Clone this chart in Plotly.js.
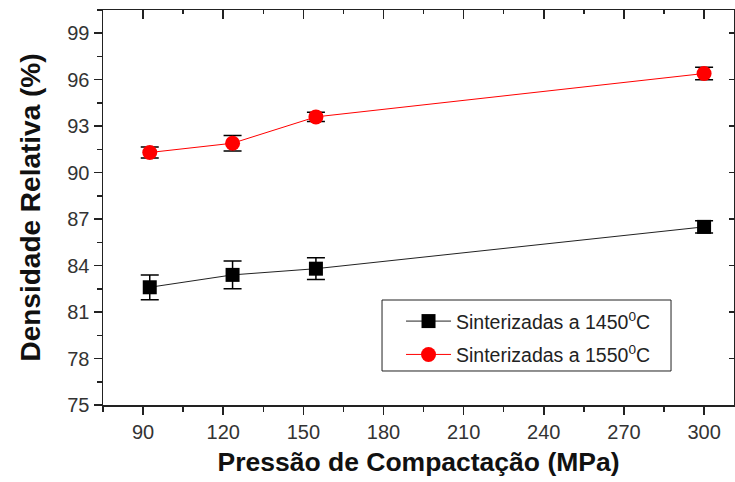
<!DOCTYPE html>
<html>
<head>
<meta charset="utf-8">
<script src="https://cdn.plot.ly/plotly-3.0.1.min.js"></script>
<style>html,body{margin:0;padding:0;background:#fff;}#chart{width:735px;height:482px;}</style>
</head>
<body>
<div id="chart"></div>
<script>
var pressure = [92.5, 123.5, 154.7, 300];
var dens1450 = [82.6, 83.4, 83.8, 86.5];
var err1450 = [0.8, 0.9, 0.7, 0.4];
var dens1550 = [91.3, 91.9, 93.6, 96.4];
var err1550 = [0.35, 0.5, 0.3, 0.4];
var names = ['Sinterizadas a 1450<sup>0</sup>C', 'Sinterizadas a 1550<sup>0</sup>C'];

var traces = [
  {x: pressure, y: dens1450, name: names[0], type: 'scatter', mode: 'lines+markers',
   legendgroup: 'a',
   line: {color: '#222', width: 1},
   marker: {symbol: 'square', size: 14, color: '#000'},
   error_y: {type: 'data', array: err1450, visible: true, color: '#000', thickness: 1.5, width: 9}},
  {x: pressure, y: dens1550, name: names[1], type: 'scatter', mode: 'lines+markers',
   legendgroup: 'b',
   line: {color: '#ff0000', width: 1},
   marker: {symbol: 'circle', size: 15, color: '#ff0000'},
   error_y: {type: 'data', array: err1550, visible: true, color: '#000', thickness: 1.5, width: 9}},
  {x: [null], y: [null], xaxis: 'x2', yaxis: 'y2', showlegend: false, hoverinfo: 'skip', type: 'scatter', mode: 'markers'}
];

var axisFont = {family: 'Arial, Liberation Sans, sans-serif', size: 20, color: '#333'};
var xTitleFont = {family: 'Arial, Liberation Sans, sans-serif', size: 26.5, color: '#111', weight: 'bold'};
var yTitleFont = {family: 'Arial, Liberation Sans, sans-serif', size: 28, color: '#111', weight: 'bold'};
var layout = {
  width: 735, height: 482,
  margin: {l: 103, r: 1, t: 10, b: 77},
  paper_bgcolor: '#fff', plot_bgcolor: '#fff',
  font: {family: 'Arial, Liberation Sans, sans-serif'},
  showlegend: true,
  legend: {x: 0.4723, xanchor: 'left', y: 0.261, yanchor: 'top',
    borderwidth: 0, bgcolor: 'rgba(0,0,0,0)',
    font: {family: 'Arial, Liberation Sans, sans-serif', size: 19.5, color: '#222'},
    traceorder: 'grouped', tracegroupgap: 5, itemwidth: 45},
  shapes: [{type: 'rect', xref: 'paper', yref: 'paper', x0: 0.4422, x1: 0.9002, y0: 0.0861, y1: 0.2658,
    line: {color: '#222', width: 1}, fillcolor: '#fff', layer: 'above'}],
  xaxis: {range: [75, 311.2], tick0: 90, dtick: 30, ticks: 'outside', ticklen: 8, tickwidth: 1.5,
    tickcolor: '#222', showline: true, linecolor: '#222', linewidth: 1.5, showgrid: false, zeroline: false,
    tickfont: axisFont,
    minor: {dtick: 15, tick0: 90, ticks: 'outside', ticklen: 5, tickwidth: 1.5, tickcolor: '#222', showgrid: false},
    title: {text: 'Pressão de Compactação (MPa)', standoff: 11, font: xTitleFont}},
  yaxis: {range: [75, 100.5], tick0: 75, dtick: 3, ticks: 'outside', ticklen: 8, tickwidth: 1.5,
    tickcolor: '#222', showline: true, linecolor: '#222', linewidth: 1.5, showgrid: false, zeroline: false,
    tickfont: axisFont,
    minor: {dtick: 1.5, tick0: 75, ticks: 'outside', ticklen: 5, tickwidth: 1.5, tickcolor: '#222', showgrid: false},
    title: {text: 'Densidade Relativa (%)', standoff: 18, font: yTitleFont}},
  xaxis2: {overlaying: 'x', side: 'top', matches: 'x', range: [75, 311.2], tick0: 90, dtick: 30,
    ticks: 'inside', ticklen: 9, tickwidth: 1.5, tickcolor: '#222', showticklabels: false,
    showline: true, linecolor: '#222', linewidth: 1.5, showgrid: false, zeroline: false,
    minor: {dtick: 15, tick0: 90, ticks: 'inside', ticklen: 4, tickwidth: 1.5, tickcolor: '#222', showgrid: false}},
  yaxis2: {overlaying: 'y', side: 'right', range: [75, 100.5], tick0: 75, dtick: 3,
    ticks: 'inside', ticklen: 5, tickwidth: 1.5, tickcolor: '#222', showticklabels: false,
    showline: true, linecolor: '#222', linewidth: 1.5, showgrid: false, zeroline: false}
};

Plotly.newPlot('chart', traces, layout, {displayModeBar: false, staticPlot: true});
</script>
</body>
</html>
